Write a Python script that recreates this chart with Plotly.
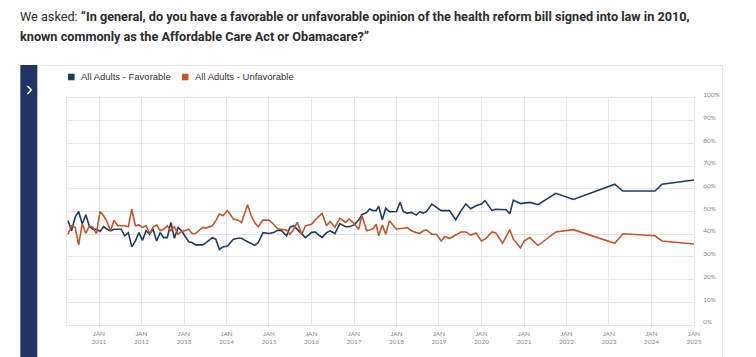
import plotly.graph_objects as go

# ---------------- data ----------------
poll_dates = [
    "2010-04-10", "2010-05-10", "2010-06-10", "2010-07-10", "2010-08-10", "2010-09-10",
    "2010-10-10", "2010-11-10", "2010-12-10", "2011-01-10", "2011-02-10", "2011-03-10",
    "2011-04-10", "2011-05-10", "2011-06-10", "2011-07-10", "2011-08-10", "2011-09-10",
    "2011-10-10", "2011-11-10", "2011-12-10", "2012-01-10", "2012-02-10", "2012-03-10",
    "2012-04-10", "2012-05-10", "2012-06-10", "2012-07-10", "2012-08-10", "2012-09-10",
    "2012-10-10", "2012-11-10", "2012-12-10", "2013-01-10", "2013-02-10", "2013-03-10",
    "2013-04-10", "2013-06-10", "2013-07-10", "2013-09-01", "2013-10-01", "2013-11-01",
    "2013-12-01", "2014-01-10", "2014-03-01", "2014-04-10", "2014-05-10", "2014-07-01",
    "2014-08-01", "2014-09-01", "2014-10-01", "2014-11-10", "2015-01-01", "2015-02-10",
    "2015-03-20", "2015-04-20", "2015-06-01", "2015-07-01", "2015-08-01", "2015-09-01",
    "2015-10-10", "2015-11-10", "2016-01-01", "2016-02-01", "2016-04-01", "2016-05-10",
    "2016-06-10", "2016-07-20", "2016-09-01", "2016-10-20", "2016-11-20", "2017-01-01",
    "2017-02-10", "2017-03-10", "2017-04-20", "2017-05-15", "2017-06-15", "2017-07-10",
    "2017-08-01", "2017-09-01", "2017-10-01", "2017-11-01", "2017-12-01", "2018-01-01",
    "2018-02-01", "2018-03-01", "2018-04-01", "2018-05-10", "2018-06-20", "2018-07-20",
    "2018-08-20", "2018-09-15", "2018-11-01", "2018-12-10", "2019-01-20", "2019-02-20",
    "2019-04-01", "2019-05-25", "2019-07-10", "2019-08-20", "2019-10-01", "2019-11-15",
    "2020-01-01", "2020-02-01", "2020-04-01", "2020-05-01", "2020-07-01", "2020-08-01",
    "2020-09-01", "2020-10-01", "2020-12-01", "2021-01-01", "2021-02-20", "2021-05-01",
    "2021-10-01", "2022-03-01", "2023-02-20", "2023-05-01", "2024-02-01", "2024-04-01",
    "2025-01-01",
]

favorable = [
    46, 41.5, 47.5, 50, 44.5, 48.6,
    43.5, 42.2, 42.2, 41.2, 43.3, 42.2,
    41.5, 42.2, 42.2, 42.2, 39.3, 40.7,
    34.4, 37, 40.7, 37.3, 41.5, 40,
    42.2, 37, 40.7, 38.5, 38.5, 45.2,
    38.2, 43, 41.5, 39.3, 36.7, 36.3,
    35.3, 35.3, 36.3, 38.5, 37.8, 33.3,
    34.4, 34.8, 37.8, 38.2, 38.2, 36.7,
    35.9, 35.1, 36.3, 40.7, 40.3, 40.7,
    41.8, 41.5, 39.3, 43, 43.7, 42.2,
    40.3, 38.5, 40.7, 41, 38.5, 40.7,
    41.5, 40.3, 44.7, 43.3, 43.3, 44.1,
    46.2, 48.6, 49.6, 51.1, 50.4, 50.4,
    52.3, 46.4, 51.4, 49.9, 49.9, 50,
    54.1, 49.9, 49.3, 49.6, 48.4, 49.9,
    49.3, 49.9, 53.3, 51.9, 50.4, 50.4,
    50.4, 46.4, 50.4, 53.3, 51.2, 52.5,
    53.3, 54.8, 50.4, 51, 51, 50.8,
    49, 55, 53.5, 53.8, 54, 53,
    58, 55.3, 62, 59, 59, 62,
    63.9,
]

unfavorable = [
    40, 43.7, 43, 35.3, 44.7, 40.3,
    43.7, 43, 40.3, 50, 48.1, 45.6,
    41.5, 46.2, 43.7, 43.7, 43.7, 43.3,
    51, 43.7, 44.1, 43, 43.7, 40.3,
    43, 44.1, 41.5, 42.2, 43.7, 41.5,
    43.3, 40, 41.2, 41.5, 42.2, 40.3,
    40.3, 43, 42.7, 43.7, 45.9, 48.9,
    48.1, 50.4, 46.7, 46.2, 45.2, 53,
    48.1, 45, 43.3, 46.2, 46.2, 44.4,
    42.2, 42.2, 41.8, 40, 42.2, 45.2,
    40, 43.7, 44.4, 46.2, 49.2, 43.7,
    45.6, 43, 47.1, 45.2, 46.7, 44.7,
    42.2, 48.1, 41.5, 41.8, 42.5, 44.4,
    39.3, 44, 40, 45.9, 44, 42.2,
    42.5, 42.5, 43, 41.5, 40.7, 40.4,
    41.5, 41.9, 40, 40, 37, 39,
    38.1, 39.6, 41, 41, 39.6, 40.5,
    37, 37.8, 41, 40.7, 36, 39,
    42, 37.8, 34, 37, 38.5, 35,
    41, 42, 36, 40.2, 39.3, 37,
    35.7,
]

series_names = ["All Adults - Favorable", "All Adults - Unfavorable"]
series_colors = ["#1f3a63", "#c4542a"]

tick_years = list(range(2011, 2026))
tick_dates = [f"{y}-01-01" for y in tick_years]
tick_text = [f"JAN<br>{y}" for y in tick_years]
x_range = ["2010-04-01", "2025-01-01"]

title_line1 = ("We asked: <b>\u201cIn general, do you have a favorable or unfavorable opinion of the "
               "health reform bill signed into law in 2010,</b>")
title_line2 = "<b>known commonly as the Affordable Care Act or Obamacare?\u201d</b>"

# ---------------- layout geometry ----------------
# the page body has an 8px margin, so the figure is drawn 8px smaller and
# every page position below is converted into figure coordinates.
OFF = 8
W, H = 756 - OFF, 357 - OFF
PL, PR, PT, PB = 66.7, 694.3, 98, 325          # plot area in page pixels
ML, MR, MT, MB = PL - OFF, W - (PR - OFF), PT - OFF, H - (PB - OFF)
PW, PH = W - ML - MR, H - MT - MB


def px(x):
    return (x - OFF - ML) / PW


def py(y):
    return (H - MB - (y - OFF)) / PH


fig = go.Figure()
for name, vals, col in zip(series_names, [favorable, unfavorable], series_colors):
    fig.add_trace(go.Scatter(x=poll_dates, y=vals, mode="lines", name=name,
                             line=dict(color=col, width=1.6), showlegend=False))

grid = "#e6e6e6"
title_font = dict(family="Roboto, sans-serif", size=12.7, color="#2b2b2b")
legend_font = dict(family="Liberation Sans, Arial, sans-serif", size=9.5, color="#333333")

annotations = [
    dict(text=title_line1, xref="paper", yref="paper", x=px(18), y=py(16),
         xanchor="left", yanchor="middle", showarrow=False, font=title_font),
    dict(text=title_line2, xref="paper", yref="paper", x=px(18), y=py(36.5),
         xanchor="left", yanchor="middle", showarrow=False, font=title_font),
]
shapes = [
    # card outline
    dict(type="rect", xref="paper", yref="paper", x0=px(20), x1=px(723), y0=py(370), y1=py(65.5),
         line=dict(color="#e3e3e3", width=1), fillcolor="rgba(0,0,0,0)", layer="below"),
    # navy side bar
    dict(type="rect", xref="paper", yref="paper", x0=px(20), x1=px(37), y0=py(370), y1=py(65),
         line=dict(width=0), fillcolor="#1f3564"),
    # chevron
    dict(type="path", xref="paper", yref="paper",
         path=f"M {px(27)} {py(86)} L {px(31)} {py(90)} L {px(27)} {py(94)}",
         line=dict(color="white", width=1.4)),
]
# legend (square swatch + label) for each series
legend_sq_x = [71, 185]
for name, col, sx in zip(series_names, series_colors, legend_sq_x):
    shapes.append(dict(type="rect", xref="paper", yref="paper",
                       x0=px(sx - 3.3), x1=px(sx + 3.3), y0=py(80.3), y1=py(73.7),
                       line=dict(width=0), fillcolor=col))
    annotations.append(dict(text=name, xref="paper", yref="paper", x=px(sx + 7.5), y=py(77),
                            xanchor="left", yanchor="middle", showarrow=False, font=legend_font))

fig.update_layout(
    width=W, height=H,
    margin=dict(l=ML, r=MR, t=MT, b=MB, autoexpand=False),
    paper_bgcolor="white", plot_bgcolor="white",
    showlegend=False,
    xaxis=dict(type="date", range=x_range, tickvals=tick_dates, ticktext=tick_text,
               showgrid=True, gridcolor=grid, gridwidth=1, showline=True, linecolor=grid,
               mirror=True, ticks="", zeroline=False, ticklabelstandoff=2,
               tickfont=dict(family="Lato, sans-serif", size=6.5, color="#8a8a8a")),
    yaxis=dict(range=[0, 100], dtick=10, ticksuffix="%", side="right",
               showgrid=True, gridcolor=grid, gridwidth=1, showline=True, linecolor=grid,
               mirror=True, ticks="", zeroline=False, ticklabelstandoff=7, ticklabelshift=-3,
               tickfont=dict(family="Lato, sans-serif", size=6.5, color="#8a8a8a")),
    annotations=annotations,
    shapes=shapes,
)

fig.write_html("out.html")
